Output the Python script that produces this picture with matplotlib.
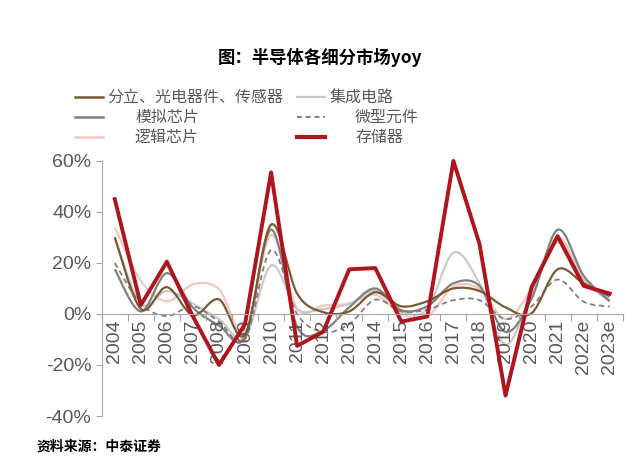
import numpy as np
import matplotlib
matplotlib.use("Agg")
import matplotlib.pyplot as plt
from matplotlib.path import Path
from matplotlib.patches import PathPatch
from matplotlib.lines import Line2D

plt.rcParams['font.family'] = ['Liberation Sans', 'Noto Sans CJK SC', 'DejaVu Sans']

years = ['2004', '2005', '2006', '2007', '2008', '2009', '2010', '2011', '2012', '2013',
         '2014', '2015', '2016', '2017', '2018', '2019', '2020', '2021', '2022e', '2023e']

# yoy growth, %
discrete = [30, 2, 10.5, -0.5, 5.7, -8, 35, 8, 0.7, 1, 8.5, 3, 5, 10, 9, 2.6, 0.3, 17.5, 12, 7]
ic = [30, 4, 9, 4, -2, -9, 19, 2, 2, 4, 9, 1, 2, 24, 12, -12, 8, 28, 13, 5]
analog = [17.5, 1, 16, 2.5, -4.5, -9, 33, -5, -6.5, 2.6, 10, 1.5, 3, 12, 11, -7, 6, 33, 15, 5]
micro = [20, 4, -0.8, 3, -3, -10, 25, 0, -7, -4, 5.6, 1, 1.7, 5.4, 5.4, -2, 3, 13.5, 4.8, 2.9]
logic = [34, 13, 5, 11.6, 9.7, -7, 31, 2, 3.3, 4.1, 7.5, 0, -1, 10.7, 9.8, -2, 10, 30, 14, 6]
memory = [45, 3.5, 20.5, -1, -20, -4, 55.5, -12.5, -7, 17.5, 18, -3, -1, 60, 27.5, -32, 10.5, 30.5, 11, 8]


def smooth_path(xs, ys):
    # Excel-like smoothed line: Catmull-Rom converted to cubic Bezier segments
    pts = np.column_stack([xs, ys]).astype(float)
    verts = [pts[0]]
    codes = [Path.MOVETO]
    n = len(pts)
    for i in range(n - 1):
        p0 = pts[i - 1] if i > 0 else pts[i]
        p1 = pts[i]
        p2 = pts[i + 1]
        p3 = pts[i + 2] if i + 2 < n else pts[i + 1]
        c1 = p1 + (p2 - p0) / 6
        c2 = p2 - (p3 - p1) / 6
        verts += [c1, c2, p2]
        codes += [Path.CURVE4] * 3
    return Path(verts, codes)


fig = plt.figure(figsize=(6.4, 4.76), dpi=100)
ax = fig.add_axes([0.159, 0.126, 0.814, 0.536])

x = np.arange(len(years))
series = [
    (logic, '#F4C6BE', 1.6, '-'),
    (ic, '#C8C8C8', 1.5, '-'),
    (micro, '#7F7F7F', 1.3, (0, (3, 2))),
    (analog, '#808080', 1.6, '-'),
    (discrete, '#7A5A32', 1.6, '-'),
]
for vals, col, lw, ls in series:
    p = smooth_path(x, np.array(vals) / 100)
    ax.add_patch(PathPatch(p, fill=False, edgecolor=col, lw=lw, linestyle=ls, clip_on=False))

ax.plot(x, np.array(memory) / 100, color='#B0141C', lw=2.8, clip_on=False)

ax.set_xlim(-0.5, len(years) - 0.5)
ax.set_ylim(-0.4, 0.6)
yt = np.arange(-0.4, 0.61, 0.2)
ax.set_yticks(yt)
ax.set_yticklabels([f'{int(round(v * 100))}%' for v in yt])

ax.set_xticks(np.arange(-0.5, len(years), 1.0))
ax.set_xticklabels([])
ax.set_xticks(x, minor=True)
ax.set_xticklabels(years, minor=True)
ax.tick_params(axis='x', which='major', direction='out', length=5, color='#A6A6A6')
ax.tick_params(axis='x', which='minor', length=0, pad=4, labelsize=14, labelcolor='#595959',
               labelrotation=90)
ax.tick_params(axis='y', direction='out', length=4, color='#A6A6A6', labelsize=14,
               labelcolor='#595959')

for s in ['top', 'right']:
    ax.spines[s].set_visible(False)
ax.spines['bottom'].set_position(('data', 0))
ax.spines['bottom'].set_color('#A6A6A6')
ax.spines['left'].set_color('#A6A6A6')

fig.text(0.5, 0.880, '图：半导体各细分市场yoy', ha='center', va='center',
         fontsize=12.5, fontweight='bold', family=['Noto Sans CJK SC', 'DejaVu Sans'])

# legend, laid out like the original
legend_rows = [
    [('分立、光电器件、传感器', '#7A5A32', 1.8, '-', 107), ('集成电路', '#C8C8C8', 1.6, '-', 330)],
    [('模拟芯片', '#808080', 1.8, '-', 135), ('微型元件', '#7F7F7F', 1.4, (0, (2.5, 2)), 355)],
    [('逻辑芯片', '#F4C6BE', 1.8, '-', 135), ('存储器', '#B0141C', 3.0, '-', 355)],
]
W, H = 640, 476
for r, row in enumerate(legend_rows):
    yy = 1 - (97 + r * 20) / H
    for c, (lab, col, lw, ls, tx) in enumerate(row):
        x0 = 75 if c == 0 else 297
        fig.add_artist(Line2D([x0 / W, (x0 + 28) / W], [yy, yy], transform=fig.transFigure,
                              color=col, lw=lw, linestyle=ls))
        fig.text(tx / W, yy, lab, ha='left', va='center', fontsize=11.5, color='#595959',
                 family=['Noto Sans CJK SC', 'DejaVu Sans'])

fig.text(37 / W, 1 - 447 / H, '资料来源：中泰证券', ha='left', va='center', fontsize=10,
         fontweight='bold', family=['Noto Sans CJK SC', 'DejaVu Sans'])

fig.savefig('out.png', dpi=100)
